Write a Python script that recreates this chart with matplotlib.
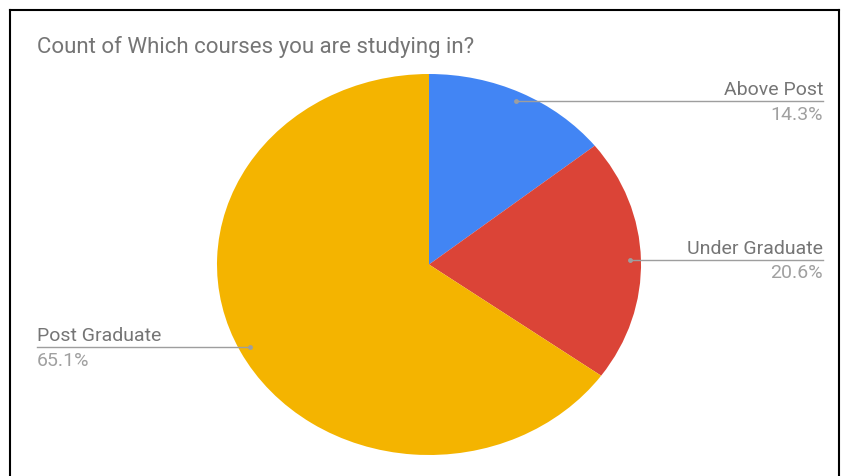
import numpy as np
import matplotlib.pyplot as plt
from matplotlib.transforms import blended_transform_factory
from matplotlib.lines import Line2D

plt.rcParams['font.family'] = ['Roboto', 'DejaVu Sans']

title = "Count of Which courses you are studying in?"
courses = ["Above Post", "Under Graduate", "Post Graduate"]
counts = [9, 13, 41]
colors = ["#4285F4", "#DB4437", "#F4B400"]

W, H = 841, 476
fig = plt.figure(figsize=(W / 100, H / 100), dpi=100)

# pie box in pixels (left, top, right, bottom); slightly wider than tall
px0, py0, px1, py1 = 217, 74, 641, 455
ax = fig.add_axes([px0 / W, 1 - py1 / H, (px1 - px0) / W, (py1 - py0) / H])
ax.pie(counts, colors=colors, startangle=90, counterclock=False,
       radius=1, wedgeprops=dict(linewidth=0))
ax.set_aspect('auto')
ax.set_xlim(-1, 1)
ax.set_ylim(-1, 1)
ax.axis('off')

total = sum(counts)
fracs = np.array(counts) / total
ends = np.cumsum(fracs)
mids = ends - fracs / 2

trans = blended_transform_factory(fig.transFigure, ax.transData)
to_fig = ax.transData + fig.transFigure.inverted()

label_col = "#757575"
pct_col = "#A0A0A0"
line_col = "#9E9E9E"

for name, f, m in zip(courses, fracs, mids):
    theta = np.pi / 2 - 2 * np.pi * m
    dx, dy = 0.95 * np.cos(theta), 0.95 * np.sin(theta)
    fx, _ = to_fig.transform((dx, dy))
    if dx >= 0:
        xend, ha = 823 / W, 'right'
    else:
        xend, ha = 37 / W, 'left'
    ax.add_line(Line2D([fx, xend], [dy, dy], transform=trans, color=line_col,
                       lw=1, clip_on=False))
    ax.plot([dx], [dy], 'o', ms=3.5, color=line_col, mec='none', clip_on=False)
    ax.annotate(name, (xend, dy), xycoords=trans, xytext=(0, 4.5),
                textcoords='offset points', ha=ha, va='baseline',
                fontsize=14, color=label_col)
    ax.annotate(f"{f * 100:.1f}%", (xend, dy), xycoords=trans, xytext=(0, -3.2),
                textcoords='offset points', ha=ha, va='top',
                fontsize=14, color=pct_col)

fig.text(37 / W, 1 - 53 / H, title, ha='left', va='baseline', fontsize=16,
         color=label_col)

# frame around the chart (open at the bottom)
for xs, ys in [([9.5, 9.5], [0, 466]), ([9.5, 839], [466, 466]),
               ([839, 839], [466, 0])]:
    fig.add_artist(Line2D(np.array(xs) / W, np.array(ys) / H, color='black',
                          lw=1.5, transform=fig.transFigure))

fig.savefig("out.png", dpi=100, facecolor='white')
